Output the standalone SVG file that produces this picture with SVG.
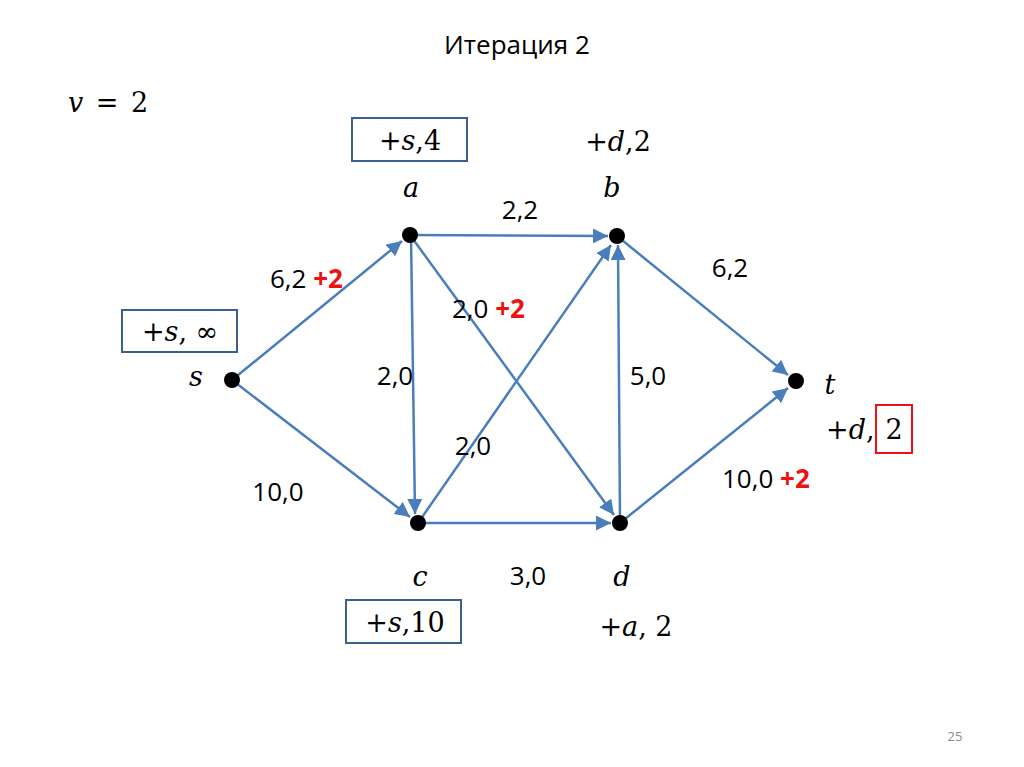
<svg xmlns="http://www.w3.org/2000/svg" width="1024" height="767" viewBox="0 0 1024 767">
<defs>
<marker id="ah" viewBox="0 0 10 10" refX="10" refY="5" markerWidth="6" markerHeight="6" markerUnits="strokeWidth" orient="auto">
<path d="M0,0 L10,5 L0,10 z" fill="#4a7ebb"/>
</marker>
<style>
.e{stroke:#4a7ebb;stroke-width:2.5;fill:none;marker-end:url(#ah)}
.n{fill:#000}
.t{font-family:"Open Sans","Liberation Sans",Arial,sans-serif;font-size:26px;fill:#000}
.m{font-family:"DejaVu Serif","Liberation Serif",serif;font-size:27px;fill:#000}
.i{font-style:italic}
.r{fill:#ee1111;font-weight:bold}
.bx{fill:none;stroke:#3c5f8f;stroke-width:2}
</style>
</defs>
<rect width="1024" height="767" fill="#fff"/>
<text class="t" x="517" y="54" text-anchor="middle" font-size="30">Итерация 2</text>
<text class="m" x="68" y="112" font-size="31" word-spacing="4"><tspan class="i">v</tspan> = 2</text>
<g id="connectors">
<line class="e" x1="232" y1="380" x2="402" y2="241"/>
<line class="e" x1="232" y1="380" x2="410" y2="517"/>
<line class="e" x1="410" y1="235" x2="608" y2="236"/>
<line class="e" x1="411" y1="235" x2="415" y2="514"/>
<line class="e" x1="410" y1="235" x2="614" y2="515"/>
<line class="e" x1="418" y1="523" x2="611" y2="245"/>
<line class="e" x1="620" y1="523" x2="618" y2="245"/>
<line class="e" x1="418" y1="523" x2="611" y2="523"/>
<line class="e" x1="617" y1="236" x2="788" y2="375"/>
<line class="e" x1="620" y1="523" x2="788" y2="388"/>
</g>
<g id="node-s"><circle class="n" cx="232" cy="380" r="8"/><text class="m i" x="196" y="386" text-anchor="middle">s</text>
<rect class="bx" x="122" y="310" width="115" height="42"/><text class="m" x="180" y="341" text-anchor="middle">+<tspan class="i">s</tspan>, ∞</text></g>
<g id="node-a"><circle class="n" cx="410" cy="235" r="8"/><text class="m i" x="411" y="197" text-anchor="middle">a</text>
<rect class="bx" x="352" y="118" width="115" height="43"/><text class="m" x="410" y="150" text-anchor="middle">+<tspan class="i">s</tspan>,4</text></g>
<g id="node-b"><circle class="n" cx="617" cy="236" r="8"/><text class="m i" x="612" y="197" text-anchor="middle">b</text>
<text class="m" x="618" y="151" text-anchor="middle">+<tspan class="i">d</tspan>,2</text></g>
<g id="node-c"><circle class="n" cx="418" cy="523" r="8"/><text class="m i" x="420" y="586" text-anchor="middle">c</text>
<rect class="bx" x="346" y="600" width="115" height="43"/><text class="m" x="405" y="632" text-anchor="middle">+<tspan class="i">s</tspan>,10</text></g>
<g id="node-d"><circle class="n" cx="620" cy="523" r="8"/><text class="m i" x="622" y="586" text-anchor="middle">d</text>
<text class="m" x="636" y="636" text-anchor="middle">+<tspan class="i">a</tspan>, 2</text></g>
<g id="node-t"><circle class="n" cx="796" cy="381" r="8"/><text class="m i" x="830" y="394" text-anchor="middle">t</text>
<text class="m" x="826" y="439">+<tspan class="i">d</tspan>,</text><text class="m" x="894" y="439" text-anchor="middle">2</text>
<rect x="876" y="405" width="36" height="48" fill="none" stroke="#ee1111" stroke-width="2"/></g>
<g id="edge-labels">
<text class="t" x="520" y="219" text-anchor="middle">2,2</text>
<text class="t" x="270" y="288">6,2 <tspan class="r">+2</tspan></text>
<text class="t" x="730" y="277" text-anchor="middle">6,2</text>
<text class="t" x="452" y="318">2,0 <tspan class="r">+2</tspan></text>
<text class="t" x="395" y="385" text-anchor="middle">2,0</text>
<text class="t" x="648" y="385" text-anchor="middle">5,0</text>
<text class="t" x="473" y="455" text-anchor="middle">2,0</text>
<text class="t" x="278" y="501" text-anchor="middle">10,0</text>
<text class="t" x="722" y="488">10,0 <tspan class="r">+2</tspan></text>
<text class="t" x="528" y="585" text-anchor="middle">3,0</text>
</g>
<text x="955" y="741" text-anchor="middle" font-family="Open Sans,Liberation Sans,Arial,sans-serif" font-size="13" fill="#8a8a8a">25</text>
</svg>
